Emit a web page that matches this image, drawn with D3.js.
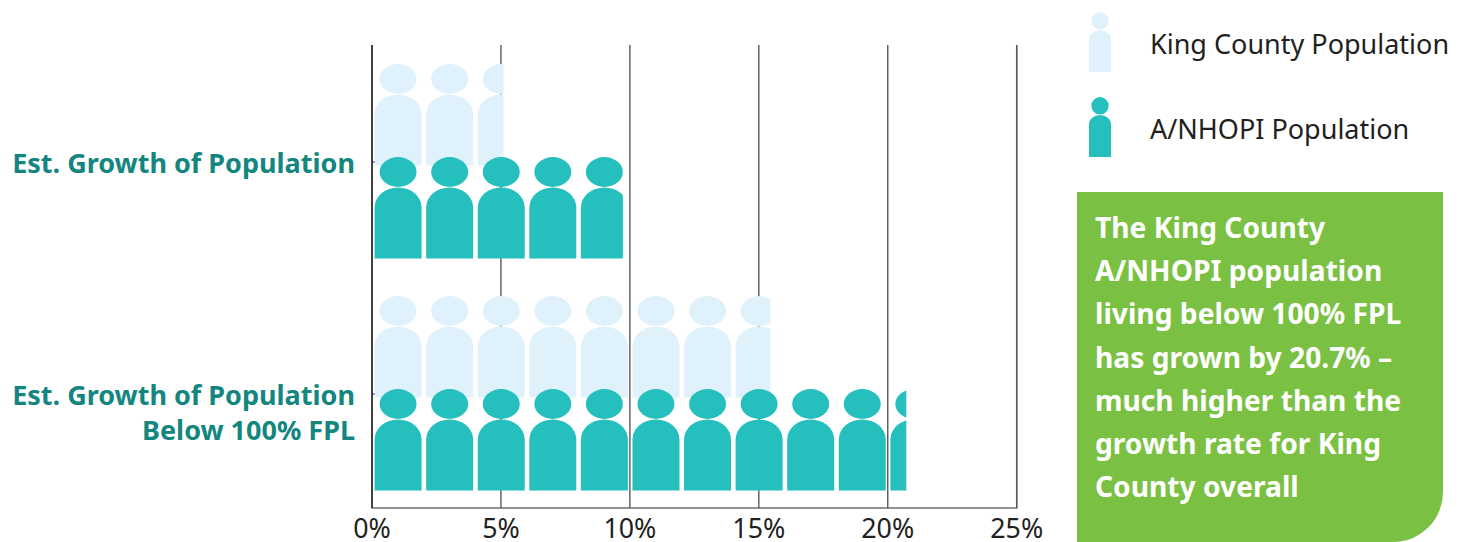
<!DOCTYPE html>
<html>
<head>
<meta charset="utf-8">
<script src="https://d3js.org/d3.v7.min.js"></script>
<style>
  html, body { margin: 0; padding: 0; background: #fff; }
  svg { display: block; }
  text { font-family: "Noto Sans", sans-serif; }
</style>
</head>
<body>
<div id="chart"></div>
<script>
var categories = ["Est. Growth of Population", "Est. Growth of Population|Below 100% FPL"];
var kingCounty = [5.1, 15.45];
var anhopi = [9.73, 20.72];
var xTicks = [0, 5, 10, 15, 20, 25];
var legendLabels = ["King County Population", "A/NHOPI Population"];
var calloutLines = ["The King County", "A/NHOPI population", "living below 100% FPL", "has grown by 20.7% –", "much higher than the", "growth rate for King", "County overall"];

var lightColor = "#dff1fb", tealColor = "#25bfbd", labelColor = "#12867f", greenColor = "#7ac143", inkColor = "#231f20";

var width = 1466, height = 542;
var svg = d3.select("#chart").append("svg").attr("width", width).attr("height", height);

var x = d3.scaleLinear().domain([0, 25]).range([372, 1016.7]);
var y = d3.scaleBand().domain(categories).range([46, 510]);

// axis with the ticks run up as gridlines
var xAxis = svg.append("g")
  .attr("transform", "translate(0,508)")
  .call(d3.axisBottom(x).tickValues(xTicks).tickFormat(function(d) { return d + "%"; }).tickSize(-463).tickPadding(10).offset(0));
xAxis.select(".domain").attr("stroke", "#6d6e71").attr("stroke-width", 1.5);
xAxis.selectAll("line").attr("stroke", "#58595b").attr("stroke-width", 1.4);
xAxis.selectAll("text").attr("font-size", 26.8).attr("fill", inkColor).attr("dy", "0.76em");
xAxis.selectAll(".tick").filter(function(d) { return d == 0; }).select("line").attr("stroke", "#231f20");

// little ticks on the category axis
svg.append("g").selectAll("line").data(categories).enter().append("line")
  .attr("x1", 372).attr("x2", 376)
  .attr("y1", function(d) { return y(d) + y.bandwidth() / 2; })
  .attr("y2", function(d) { return y(d) + y.bandwidth() / 2; })
  .attr("stroke", "#231f20");

// a person, centred on cx with the foot of the body at bottom
function person(g, cx, bottom, color, bw, bh, rx, ry) {
  g.append("ellipse").attr("cx", cx).attr("cy", bottom - bh - ry - 0.5).attr("rx", rx).attr("ry", ry).attr("fill", color);
  var r = bw / 2;
  g.append("path").attr("fill", color)
    .attr("d", "M" + (cx - r) + "," + bottom + "V" + (bottom - bh + r * 0.85)
      + "A" + r + "," + (r * 0.85) + " 0 0 1 " + (cx + r) + "," + (bottom - bh + r * 0.85)
      + "V" + bottom + "Z");
}

var defs = svg.append("defs");

function drawRow(values, color, footOffset, name) {
  values.forEach(function(v, i) {
    var id = "clip-" + name + "-" + i;
    var bottom = y(categories[i]) + y.bandwidth() / 2 + footOffset;
    defs.append("clipPath").attr("id", id).append("rect")
      .attr("x", x(0)).attr("y", bottom - 120).attr("width", x(v) - x(0)).attr("height", 125);
    var g = svg.append("g").attr("clip-path", "url(#" + id + ")");
    // one person stands for 2%
    d3.range(Math.ceil(v / 2)).forEach(function(k) {
      person(g, x(2 * k + 1) + 0.3, bottom, color, 47, 71, 18.5, 15);
    });
  });
}
drawRow(kingCounty, lightColor, 3.5, "kc");
drawRow(anhopi, tealColor, 96.5, "an");

// category labels
categories.forEach(function(c) {
  var t = svg.append("text").attr("text-anchor", "end").attr("font-weight", 700)
    .attr("font-size", 27).attr("fill", labelColor);
  c.split("|").forEach(function(line, j) {
    t.append("tspan").attr("x", 355).attr("y", y(c) + y.bandwidth() / 2 + 10.5 + j * 35).text(line);
  });
});

// legend
legendLabels.forEach(function(l, i) {
  var g = svg.append("g");
  var foot = 72 + i * 85;
  person(g, 1100, foot, i == 0 ? lightColor : tealColor, 22, 42, 8.7, 8.7);
  g.append("text").attr("x", 1150).attr("y", foot - 18.5).attr("font-size", 27).attr("fill", inkColor).text(l);
});

// callout box, square except for the lower right corner
svg.append("path").attr("fill", greenColor)
  .attr("d", "M1077,192H1443V492A50,50 0 0 1 1393,542H1077Z");
svg.append("g").selectAll("text").data(calloutLines).enter().append("text")
  .attr("x", 1095).attr("y", function(d, i) { return 238 + i * 43.2; })
  .attr("font-size", 28.2).attr("font-weight", 700).attr("fill", "#fff")
  .text(function(d) { return d; });
</script>
</body>
</html>
